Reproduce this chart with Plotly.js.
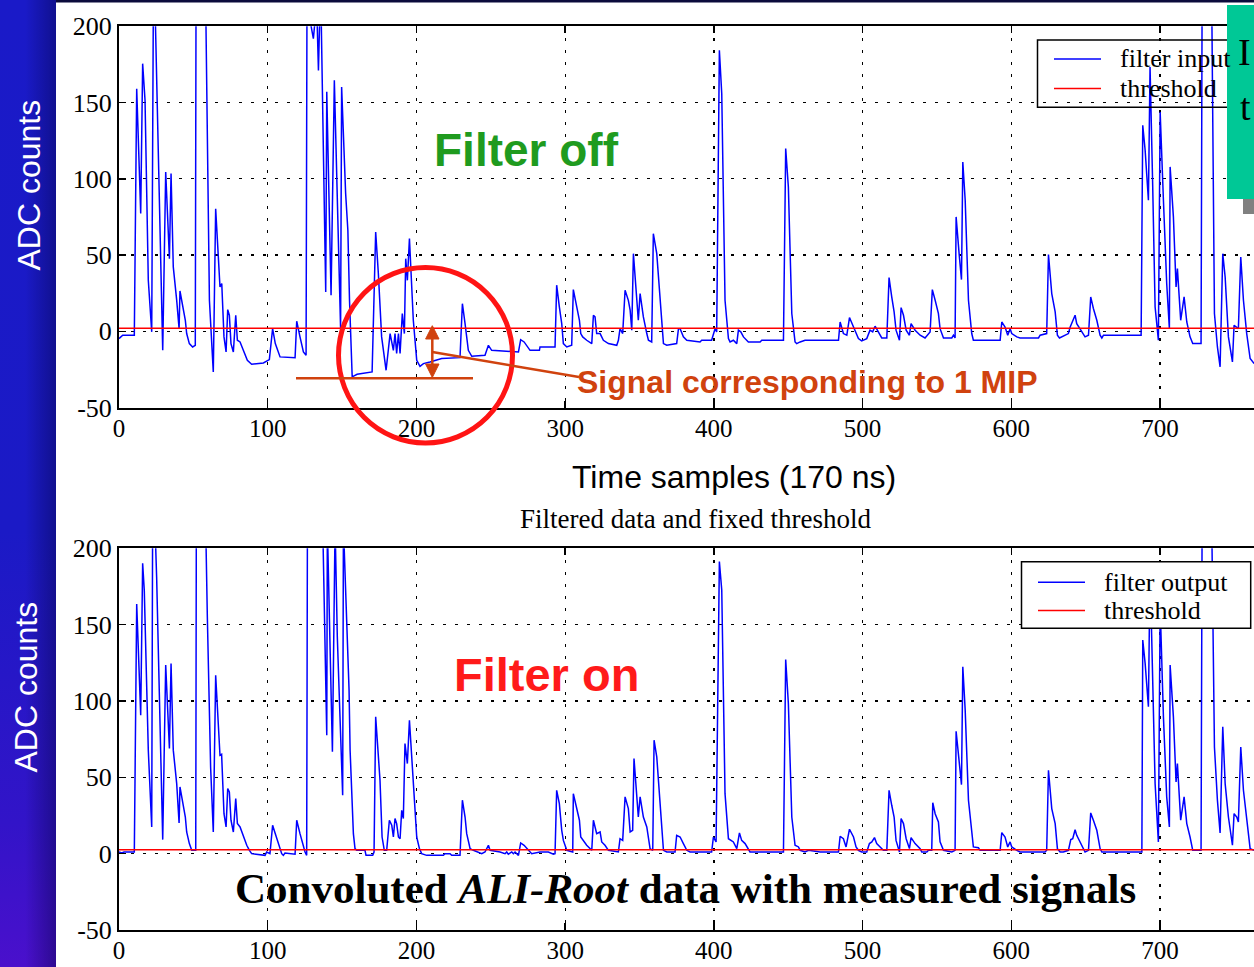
<!DOCTYPE html>
<html>
<head>
<meta charset="utf-8">
<script src="https://cdn.plot.ly/plotly-3.0.1.min.js"></script>
<style>
html,body{margin:0;padding:0;background:#fff;}
#strip{position:absolute;left:0;top:0;width:56px;height:967px;
 background:linear-gradient(to right, rgba(0,0,40,0) 0%, rgba(0,0,40,0) 45%, rgba(0,0,50,0.38) 100%),
            linear-gradient(to bottom, #1a1ac8 0%, #1b1ac6 55%, #3214c8 85%, #4a10cc 100%);}
#chart{position:absolute;left:0;top:0;width:1254px;height:967px;}
</style>
</head>
<body>
<div id="strip"></div>
<div id="chart"></div>
<script>
// ---- data ----
const inputX = [0,2.5,10.3,11.9,14.6,15.9,17.5,19.7,22.0,23.1,
24.2,29.4,31.4,33.9,35.0,36.5,38.8,40.4,41.0,42.8,
44.6,45.5,47.3,49.5,51.3,51.8,58.3,60.8,63.4,65.0,
67.9,69.1,70.6,72.0,73.1,74.2,75.3,76.9,78.5,79.6,
81.4,83.6,86.3,89.2,97.1,101.1,103.3,105.1,108.3,118.4,
119.5,121.7,124.0,125.8,126.4,130.7,132.9,134.1,135.2,135.8,
139.0,139.7,142.6,144.8,146.8,149.0,149.7,152.4,153.9,155.0,
156.8,160.1,170.2,172.6,174.4,176.6,179.6,182.3,184.5,185.6,
186.7,187.9,189.0,190.5,191.9,192.8,193.9,195.3,197.9,200.2,
202.4,204.7,209.1,213.6,217.0,229.3,230.9,232.7,234.9,237.2,
246.1,248.4,250.6,268.6,270.1,272.4,275.3,276.4,282.7,283.1,
293.2,294.3,296.1,297.7,298.8,301.1,304.4,305.5,307.8,309.6,
310.5,311.8,314.5,317.9,319.0,320.1,321.2,323.5,325.7,329.1,
334.7,335.8,336.9,338.7,340.3,342.5,343.7,344.8,345.9,348.1,
349.2,350.4,352.6,354.9,356.0,358.2,359.3,361.6,363.8,366.1,
368.3,375.0,376.2,377.3,379.5,381.8,390.7,391.8,398.5,400.8,
401.9,403.7,405.3,407.5,409.8,410.9,413.1,415.4,416.5,418.1,
419.9,423.2,431.1,432.2,446.8,448.3,450.1,452.4,454.6,455.7,
458.0,461.3,471.4,483.8,484.9,487.1,489.4,491.2,493.9,495.6,
497.2,499.4,502.8,505.0,506.8,508.4,510.7,512.9,516.3,517.8,
519.6,521.2,522.5,524.8,525.9,527.5,529.3,531.5,532.6,535.3,
538.7,542.0,545.4,546.9,548.8,551.0,552.1,554.4,560.0,561.1,
562.2,562.9,565.1,566.5,567.4,569.0,571.2,573.4,574.5,592.5,
593.6,595.8,597.6,599.2,600.3,603.7,605.9,618.3,619.4,623.8,
625.0,627.2,629.5,631.0,632.4,636.2,638.4,639.6,642.9,644.0,
647.4,649.6,651.9,653.4,655.2,657.5,659.7,660.9,662.0,687.3,
688.4,690.0,692.2,693.3,695.1,696.7,698.9,700.1,702.3,704.5,
706.3,706.8,709.0,710.8,711.7,713.9,716.2,718.0,720.2,722.0,
727.6,728.3,734.8,736.6,738.6,740.4,742.2,743.8,746.0,748.7,
749.8,752.7,754.3,756.1,758.3,760.6,763.3];
const inputY = [-4.8,-2.6,-2.6,159.1,77.2,175.5,151.5,33.4,-0.4,215,
215,-12.5,104.5,47.6,103.4,42.2,20.3,1.7,26.4,16.0,
7.2,-1.5,-8.1,-10.3,-9.2,215,215,20.3,-26.7,80.4,
29.1,31.3,-3.7,-13.6,14.2,10.5,-8.1,-13.6,10.5,-5.9,
-7.0,-12.5,-19.0,-21.6,-20.8,-18.6,1.7,-8.1,-16.8,-17.3,
6.6,-3.7,-13.6,-15.7,215,191.9,215,171.1,215,215,
25.8,157.0,23.6,164.6,77.2,1.7,160.2,90.3,66.2,20.3,
-29.9,-28.2,-26.7,65.1,37.8,-3.7,-25.6,-1.5,-12.5,-1.5,
-14.6,-1.5,-14.6,11.6,-1.5,47.6,33.4,60.8,7.2,-19.0,
-23.0,-21.2,-20.1,-19.0,-17.9,-17.3,18.1,5.0,-12.5,-16.4,
-15.7,-9.2,-12.5,-13.6,-5.5,-7.0,-11.4,-12.5,-12.5,-10.3,
-10.3,30.2,16.0,5.0,-8.1,-10.3,-9.2,27.3,16.0,7.2,
-1.5,-3.7,-5.9,-8.1,10.5,9.4,-1.5,-1.5,-5.9,-8.1,
-9.2,-5.9,1.7,-1.5,26.9,20.3,13.8,0.7,50.9,24.7,
7.2,24.7,9.4,-1.5,-5.9,-7.0,64.0,50.9,20.3,-8.1,
-9.2,-8.1,1.7,1.7,-3.7,-5.9,-7.0,-5.9,-5.9,1.7,
-0.4,184.3,155.8,20.3,-4.8,-7.0,-5.9,-8.1,0.7,-0.4,
-3.7,-7.0,-7.0,-5.9,-5.9,119.8,94.6,11.6,-7.0,-8.1,
-7.0,-5.9,-5.9,-5.9,6.1,-1.5,-2.6,9.0,2.8,-1.5,
-4.8,-6.3,-4.8,0.7,-0.4,3.3,-0.4,-4.4,-4.4,35.2,
22.5,12.7,0.7,-5.9,15.5,10.5,0.7,-2.6,5.0,0.7,
-2.6,-4.4,-0.4,27.3,20.3,11.6,1.7,-4.4,-4.4,-2.6,
-4.4,75.0,48.7,33.9,111.0,85.9,20.3,-1.5,-5.9,-5.9,
6.1,2.8,-2.6,1.7,-1.5,-3.7,-4.4,-4.4,-2.6,-1.5,
50.3,24.7,12.7,-2.6,-4.4,-2.6,-1.5,2.8,10.5,5.0,
-0.4,-3.7,-2.6,22.5,14.9,7.2,-2.6,-4.4,-2.6,-2.6,
135.1,118.7,85.9,173.3,94.6,16.0,-5.9,143.8,85.9,31.3,
1.7,107.8,75.0,29.1,41.1,7.2,22.5,6.1,-3.7,-8.1,
-8.1,215,215,11.6,-10.3,-23.4,50.9,35.6,-3.7,-20.1,
3.9,1.7,48.7,20.3,-1.5,-17.9,-21.2];

const outputX = [0,1.8,3.4,10.3,11.9,14.6,15.9,17.0,19.7,22.0,
22.6,24.2,25.3,27.6,29.4,31.4,33.9,35.0,36.5,38.8,
40.4,41.0,42.8,44.6,45.5,47.3,48.9,51.6,52.0,58.3,
59.4,61.6,63.4,65.0,67.9,69.0,70.6,72.0,73.1,74.2,
75.3,76.9,78.5,79.6,81.4,83.6,85.9,87.7,89.2,98.2,
99.3,101.5,103.3,105.1,107.4,109.4,110.5,111.6,118.4,119.5,
121.7,124.0,125.1,126.2,126.7,137.0,139.7,140.1,141.9,143.5,
145.3,146.8,148.6,150.4,150.9,153.1,154.7,155.4,157.6,158.7,
159.8,165.4,166.1,170.6,171.5,172.6,173.7,175.5,176.9,178.4,
180.0,181.8,183.4,184.5,185.6,186.7,187.9,189.0,190.1,191.2,
192.3,193.9,195.3,197.9,200.2,202.0,203.5,206.9,218.1,219.2,
222.6,223.7,229.3,230.9,232.7,233.8,236.1,238.3,241.7,243.9,
246.1,248.4,249.5,256.2,259.6,260.7,261.8,264.1,265.2,266.3,
268.6,270.1,272.4,275.3,277.5,283.1,288.7,292.1,293.2,294.3,
296.1,297.7,298.8,301.1,305.1,305.5,307.8,309.6,310.5,312.3,
314.5,317.9,319.0,321.2,323.5,324.6,326.8,329.1,335.8,336.9,
338.7,340.3,342.5,343.7,345.4,346.3,348.1,349.2,350.4,352.6,
354.9,357.1,358.9,359.8,361.6,363.8,366.1,368.3,373.9,375.0,
377.3,379.5,381.8,384.0,398.5,399.7,401.5,403.7,405.3,407.5,
409.8,413.1,415.4,417.2,418.7,421.0,423.2,424.3,446.8,448.3,
450.1,452.4,454.6,456.9,458.0,461.3,463.6,471.4,483.8,484.9,
487.1,488.9,491.2,493.9,495.6,497.2,499.4,502.8,504.6,506.2,
508.0,509.5,511.8,514.0,516.3,517.8,519.6,521.2,522.5,524.8,
525.9,527.5,529.3,531.5,532.6,535.3,538.7,539.8,543.2,544.3,
546.5,547.2,548.8,551.0,552.1,554.4,560.0,562.2,562.9,565.1,
566.5,567.4,569.0,571.2,573.4,574.5,577.9,579.0,592.5,593.6,
595.8,597.6,599.2,600.3,603.7,605.9,622.7,623.8,625.0,627.2,
629.5,631.0,632.8,635.0,638.4,640.0,641.3,642.9,644.0,647.4,
649.6,651.9,653.4,655.2,657.5,659.7,660.9,687.8,688.4,690.0,
692.2,693.3,695.1,696.7,698.9,700.1,702.3,704.5,706.3,706.8,
709.0,710.8,711.7,713.9,716.2,718.0,720.2,722.0,727.6,728.3,
734.8,736.6,738.6,740.4,742.2,743.8,746.0,748.7,749.8,751.6,
752.7,754.3,756.1,758.3,760.6,763.3];
const outputY = [1.1,0.4,1.1,1.1,163.5,90.7,190.2,172.5,67.8,17.5,
215,215,181.4,88.5,9.2,123.5,68.9,124.6,67.8,45.9,
20.1,43.7,32.8,24.0,14.2,6.6,2.2,2.2,215,215,
155,56.8,14.2,116.9,64.5,65.1,26.2,17.5,42.6,40.4,
21.9,14.2,36.1,19.7,17.5,10.9,5.5,2.2,0,-1.1,
1.1,0,18.6,13.1,6.6,0,-1.1,0.4,-0.4,21.9,
13.1,4.4,1.1,-1.1,215,215,77.6,215,133.3,66.7,
215,142,89.6,38.3,215,144.3,107.1,67.8,13.1,3.3,
2.2,2.2,-1.1,-1.1,1.1,89.6,74.3,48.1,10.9,2.2,
2.2,21.9,18.6,10.9,23.0,19.7,10.9,9.8,28.4,23.0,
72.1,59.0,87.4,45.9,10.9,3.3,0,-1.1,-1.1,0,
0,-1.1,-1.1,35.0,24.0,13.1,3.3,2.2,1.1,0,
1.1,5.5,2.2,1.1,0,1.1,-0.4,1.1,0,1.1,
-1.1,7.0,5.5,2.2,0,1.1,1.1,-0.4,0,41.5,
32.8,15.3,8.7,2.2,1.1,39.3,29.5,21.9,10.9,8.7,
5.5,2.2,21.9,13.1,14.2,7.7,5.5,2.2,1.1,9.8,
8.7,37.2,29.5,14.2,15.3,62.3,37.2,24.0,37.2,24.0,
17.5,3.3,2.2,74.3,63.4,35.0,2.2,1.1,1.1,12.0,
10.9,6.6,2.2,1.1,1.1,10.9,7.7,191.3,172.7,39.3,
9.8,7.7,3.3,13.6,8.7,6.6,2.2,1.1,1.1,127.2,
98.4,24.0,5.5,4.4,2.2,1.1,2.2,1.1,1.1,11.4,
9.8,4.4,16.0,10.9,4.4,2.2,1.1,1.1,6.6,7.7,
10.5,6.6,4.4,2.2,2.2,41.5,31.7,24.0,8.7,1.1,
23.0,19.7,9.8,3.3,10.5,6.6,3.3,1.1,1.1,2.2,
2.2,33.4,26.2,20.8,7.7,2.2,1.1,2.2,80.2,61.2,
45.2,122.4,94.0,35.0,10.9,4.4,3.9,2.2,2.2,13.8,
10.9,4.4,7.7,4.4,2.2,1.1,1.1,2.2,54.6,29.5,
19.7,3.3,1.1,1.1,2.2,9.2,9.8,15.7,12.0,5.5,
1.1,2.2,26.7,21.9,15.3,3.3,1.1,1.1,139.9,124.6,
96.2,188,111.5,45.9,7.7,162,89.6,37.2,17.5,123.5,
89.6,47.0,59.0,21.9,37.2,19.7,10.9,2.2,2.2,215,
215,69.9,35.0,13.6,83.1,45.9,24.0,5.5,26.2,24.0,
20.8,69.9,41.5,21.9,3.3,2.2];

const thresholdX = [0, 763.3];
const thresholdTopY = [2, 2];
const thresholdBottomY = [2.5, 2.5];

const xTickVals = [0, 100, 200, 300, 400, 500, 600, 700];
const xTickText = ['0', '100', '200', '300', '400', '500', '600', '700'];
const yTickVals = [-50, 0, 50, 100, 150, 200];
const yTickText = ['-50', '0', '50', '100', '150', '200'];

// ---- layout helpers (pixel -> paper fraction) ----
const W = 1254, H = 967;
const px = v => v / W;
const py = v => 1 - v / H;

const SERIF = 'Liberation Serif, Times New Roman, serif';
const SANS = 'Liberation Sans, Arial, Helvetica, sans-serif';

function xAxis(anchor) {
  return {
    anchor: anchor, domain: [px(119), 1], range: [0, 763.2],
    tickmode: 'array', tickvals: xTickVals, ticktext: xTickText,
    ticks: 'inside', ticklen: 7, tickwidth: 1.5, tickcolor: '#000',
    showline: true, linecolor: '#000', linewidth: 2, mirror: 'ticks',
    showgrid: true, gridcolor: '#000', gridwidth: 1.3, griddash: '3px,9px',
    zeroline: false, tickfont: {family: SERIF, size: 25, color: '#000'},
    ticklabelstandoff: -3,
    fixedrange: true
  };
}
function yAxis(anchor, domain) {
  return {
    anchor: anchor, domain: domain, range: [-50, 200],
    tickmode: 'array', tickvals: yTickVals, ticktext: yTickText,
    ticks: 'inside', ticklen: 7, tickwidth: 1.5, tickcolor: '#000',
    showline: true, linecolor: '#000', linewidth: 2, mirror: false,
    showgrid: true, gridcolor: '#000', gridwidth: 1.3, griddash: '3px,9px',
    zeroline: false, tickfont: {family: SERIF, size: 26, color: '#000'},
    fixedrange: true
  };
}

const traces = [
  {x: inputX, y: inputY, xaxis: 'x', yaxis: 'y', type: 'scatter', mode: 'lines',
   name: 'filter input', line: {color: '#0000ff', width: 1.5}, showlegend: false},
  {x: thresholdX, y: thresholdTopY, xaxis: 'x', yaxis: 'y', type: 'scatter', mode: 'lines',
   name: 'threshold', line: {color: '#ff0000', width: 1.5}, showlegend: false},
  {x: outputX, y: outputY, xaxis: 'x2', yaxis: 'y2', type: 'scatter', mode: 'lines',
   name: 'filter output', line: {color: '#0000ff', width: 1.5}, showlegend: false},
  {x: thresholdX, y: thresholdBottomY, xaxis: 'x2', yaxis: 'y2', type: 'scatter', mode: 'lines',
   name: 'threshold', line: {color: '#ff0000', width: 1.5}, showlegend: false}
];

function seg(x0, y0, x1, y1, color, width) {
  return {type: 'line', xref: 'paper', yref: 'paper', x0: px(x0), y0: py(y0), x1: px(x1), y1: py(y1),
          line: {color: color, width: width}, layer: 'above'};
}
function rect(x0, y0, x1, y1, fill, lineColor, lineWidth) {
  return {type: 'rect', xref: 'paper', yref: 'paper', x0: px(x0), y0: py(y1), x1: px(x1), y1: py(y0),
          fillcolor: fill, line: {color: lineColor, width: lineWidth}, layer: 'above'};
}
function tri(ax, ay, bx1, bx2, by, color) {
  const p = `M${px(ax)},${py(ay)} L${px(bx1)},${py(by)} L${px(bx2)},${py(by)} Z`;
  return {type: 'path', xref: 'paper', yref: 'paper', path: p, fillcolor: color,
          line: {color: color, width: 1}, layer: 'above'};
}

const ORANGE = '#d0420e';
const shapes = [
  rect(56, 0, 1254, 2.5, '#0b0b3c', 'rgba(0,0,0,0)', 0),
  // top legend (transparent)
  rect(1037.5, 40, 1280, 107.3, 'rgba(0,0,0,0)', '#000', 1.5),
  seg(1054, 59, 1101, 59, '#0000ff', 1.5),
  seg(1054, 88.5, 1101, 88.5, '#ff0000', 1.5),
  // bottom legend (opaque)
  rect(1021.5, 561.7, 1250.7, 628.3, '#ffffff', '#000', 1.5),
  seg(1038, 582.3, 1085, 582.3, '#0000ff', 1.5),
  seg(1038, 610.5, 1085, 610.5, '#ff0000', 1.5),
  // green box with grey shadow
  rect(1243, 199, 1254, 214, '#808080', 'rgba(0,0,0,0)', 0),
  rect(1227, 5, 1254, 199, '#00c896', 'rgba(0,0,0,0)', 0),
  // 1 MIP markup
  {type: 'circle', xref: 'paper', yref: 'paper', x0: px(338.5), x1: px(512.5), y0: py(443), y1: py(267.5),
   line: {color: '#ff1414', width: 5}, layer: 'above'},
  seg(296, 378.3, 473, 378.3, ORANGE, 2.5),
  seg(432.3, 337, 432.3, 366, ORANGE, 2.5),
  tri(432.3, 325.7, 425.6, 439, 339, ORANGE),
  tri(432.3, 377.5, 425.6, 439, 364, ORANGE),
  seg(432.3, 352, 579, 377, ORANGE, 2.5)
];

function ann(text, x, y, font, extra) {
  return Object.assign({text: text, xref: 'paper', yref: 'paper', x: px(x), y: py(y),
    xanchor: 'center', yanchor: 'middle', showarrow: false, font: font}, extra || {});
}

const annotations = [
  ann('ADC counts', 28.5, 185, {family: SANS, size: 32, color: '#ffffff'}, {textangle: -90}),
  ann('ADC counts', 25, 687.5, {family: SANS, size: 32, color: '#ffffff'}, {textangle: -90}),
  ann('Time samples (170 ns)', 733.5, 477, {family: SANS, size: 32, color: '#000'}),
  ann('Filtered data and fixed threshold', 695, 519, {family: SERIF, size: 27, color: '#000'}),
  ann('<b>Filter off</b>', 526, 150, {family: SANS, size: 46, color: '#1f9b1f'}),
  ann('<b>Filter on</b>', 546.5, 674, {family: SANS, size: 47, color: '#ff1a1a'}),
  ann('<b>Signal corresponding to 1 MIP</b>', 807, 382, {family: SANS, size: 32, color: ORANGE}),
  ann('<b>Convoluted <i>ALI-Root</i> data with measured signals</b>', 685, 888, {family: SERIF, size: 43, color: '#000'}),
  ann('filter input', 1117.5, 59, {family: SERIF, size: 26, color: '#000'}, {xanchor: 'left'}),
  ann('threshold', 1117.5, 88.5, {family: SERIF, size: 26, color: '#000'}, {xanchor: 'left'}),
  ann('filter output', 1101.7, 582.3, {family: SERIF, size: 26, color: '#000'}, {xanchor: 'left'}),
  ann('threshold', 1101.7, 610.5, {family: SERIF, size: 26, color: '#000'}, {xanchor: 'left'}),
  ann('I', 1253, 52, {family: SERIF, size: 38, color: '#000'}, {xanchor: 'right'}),
  ann('t', 1253, 107, {family: SERIF, size: 38, color: '#000'}, {xanchor: 'right'})
];

const layout = {
  width: W, height: H,
  margin: {l: 0, r: 0, t: 0, b: 0, pad: 0, autoexpand: false},
  paper_bgcolor: 'rgba(0,0,0,0)', plot_bgcolor: '#ffffff',
  showlegend: false,
  xaxis: xAxis('y'),
  yaxis: yAxis('x', [py(407.5), py(26.3)]),
  xaxis2: xAxis('y2'),
  yaxis2: yAxis('x2', [py(930), py(548.3)]),
  shapes: shapes,
  annotations: annotations
};

Plotly.newPlot('chart', traces, layout, {staticPlot: true, displayModeBar: false});
</script>
</body>
</html>
